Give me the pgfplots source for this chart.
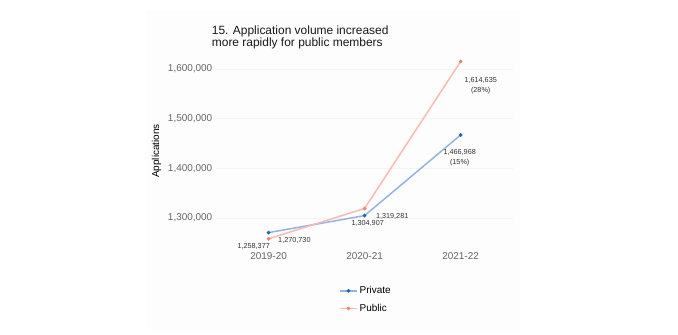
\documentclass[border=0pt]{standalone}
\usepackage{pgfplots}
\pgfplotsset{compat=1.18}
\usepackage{fontspec}
\setmainfont{Liberation Sans}
\definecolor{privline}{HTML}{93B4E0}
\definecolor{privmark}{HTML}{1565C8}
\definecolor{publine}{HTML}{F7BBB1}
\definecolor{pubmark}{HTML}{F4846C}
\definecolor{panel}{HTML}{FDFDFD}
\definecolor{gridc}{HTML}{F4F4F4}
\definecolor{tickc}{HTML}{666666}
\definecolor{labc}{HTML}{333333}
\begin{document}
\begin{tikzpicture}
\path (0bp,0bp) rectangle (678bp,335bp);
\fill[panel] (146bp,5bp) rectangle (520bp,325bp);
\node[anchor=west, align=left, inner sep=0pt, font=\fontsize{12}{12.5}\selectfont, text=black!90] at (211.7bp,297.8bp) {15. Application volume increased\\more rapidly for public members};
\begin{axis}[
  at={(215.8bp,89.6bp)}, anchor=south west,
  scale only axis, width=297.6bp, height=189bp,
  clip=false,
  xmin=-0.55, xmax=2.55,
  ymin=1245000, ymax=1625000,
  xtick={0,1,2}, xticklabels={2019-20,2020-21,2021-22},
  ytick={1300000,1400000,1500000,1600000},
  scaled y ticks=false,
  yticklabel style={/pgf/number format/fixed, /pgf/number format/1000 sep={,}, /pgf/number format/assume math mode=true},
  xticklabel style={yshift=-4bp},
  ticklabel style={font=\fontsize{10}{12}\selectfont, text=tickc},
  axis line style={draw=none},
  major tick length=0pt,
  ymajorgrids, grid style={gridc, line width=0.6pt},
  ylabel={Applications}, ylabel style={font=\fontsize{10}{12}\selectfont, text=black},
  legend style={at={(0.404,-0.195)}, anchor=north west, draw=none, fill=none,
    font=\fontsize{10}{12}\selectfont, row sep=5bp, cells={anchor=west}},
  legend cell align=left,
]
\addplot[privline, line width=1.5pt, mark=*, mark size=1.7pt, mark options={solid, fill=privmark, draw=privmark, line width=0.4pt}]
  coordinates {(0,1270730) (1,1304907) (2,1466968)};
\addlegendentry{Private}
\addplot[publine, line width=1.5pt, mark=*, mark size=1.7pt, mark options={solid, fill=pubmark, draw=pubmark, line width=0.4pt}]
  coordinates {(0,1258377) (1,1319281) (2,1614635)};
\addlegendentry{Public}
\begin{scope}[every node/.style={font=\fontsize{7.3}{9.8}\selectfont, text=labc, inner sep=0pt, align=center}]
\node[xshift=25.8bp, yshift=-7.7bp] at (axis cs:0,1270730) {1,270,730};
\node[xshift=-14.9bp, yshift=-7.9bp] at (axis cs:0,1258377) {1,258,377};
\node[xshift=3.1bp, yshift=-7.7bp] at (axis cs:1,1304907) {1,304,907};
\node[xshift=27.6bp, yshift=-7.9bp] at (axis cs:1,1319281) {1,319,281};
\node[xshift=20.1bp, yshift=-23.8bp] at (axis cs:2,1614635) {1,614,635\\(28\%)};
\node[xshift=-0.9bp, yshift=-22.8bp] at (axis cs:2,1466968) {1,466,968\\(15\%)};
\end{scope}
\end{axis}
\end{tikzpicture}
\end{document}
